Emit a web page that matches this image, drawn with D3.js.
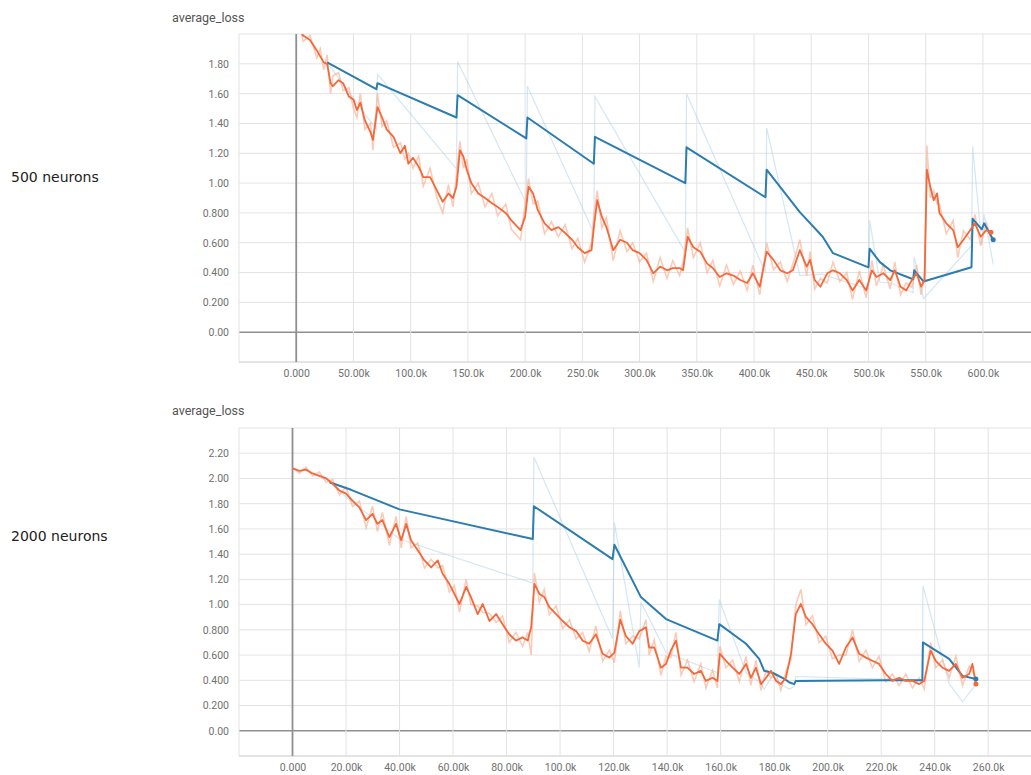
<!DOCTYPE html>
<html>
<head>
<meta charset="utf-8">
<script src="https://cdn.jsdelivr.net/npm/d3@7"></script>
<style>
  body { margin: 0; background: #fff; }
  svg { display: block; }
  .tick text { font-family: Roboto, "Liberation Sans", sans-serif; font-size: 10.5px; fill: #707070; }
</style>
</head>
<body>
<svg id="chart" width="1031" height="775"></svg>
<script>
// DATA (steps in thousands)

// top chart: 500 neurons, orange run  [step, smoothed, raw]
const orange500 = [
  [3,2.03,2.07],[6,1.99,1.95],[12,1.96,1.99],[18,1.89,1.84],[21,1.85,1.9],[24,1.81,1.76],[27,1.80,1.86],[30,1.67,1.6],[32,1.65,1.72],[37,1.69,1.74],
  [41,1.67,1.62],[46,1.58,1.64],[50,1.56,1.5],[53,1.49,1.44],[56,1.54,1.6],[60,1.42,1.36],[65,1.34,1.4],[67,1.29,1.22],[71,1.51,1.6],[75,1.44,1.38],
  [79,1.36,1.42],[85,1.31,1.24],[91,1.20,1.27],[95,1.25,1.16],[98,1.13,1.2],[102,1.17,1.1],[107,1.11,1.18],[111,1.04,0.98],[117,1.04,1.1],[123,0.95,0.9],
  [128,0.875,0.8],[133,0.93,0.99],[137,0.90,0.84],[140,0.975,1.05],[143,1.22,1.28],[146,1.18,1.1],[149,1.09,1.16],[153,1.00,0.93],[159,0.93,1.0],[165,0.90,0.84],
  [171,0.865,0.93],[176,0.84,0.78],[183,0.80,0.86],[188,0.75,0.69],[196,0.685,0.62],[200,0.775,0.86],[203,0.975,1.03],[207,0.93,0.86],[211,0.82,0.88],[217,0.73,0.66],
  [223,0.685,0.74],[229,0.705,0.64],[235,0.665,0.72],[241,0.62,0.56],[246,0.57,0.63],[252,0.53,0.47],[258,0.55,0.6],[260,0.70,0.78],[263,0.885,0.95],[267,0.775,0.7],
  [271,0.705,0.77],[277,0.55,0.48],[283,0.62,0.68],[289,0.60,0.54],[294,0.55,0.6],[300,0.53,0.47],[306,0.485,0.53],[312,0.395,0.34],[318,0.44,0.5],[324,0.415,0.36],
  [329,0.43,0.48],[335,0.43,0.38],[338,0.415,0.47],[342,0.64,0.7],[347,0.57,0.5],[353,0.54,0.6],[359,0.46,0.4],[364,0.43,0.48],[370,0.37,0.31],[376,0.395,0.45],
  [382,0.38,0.32],[388,0.35,0.41],[394,0.33,0.28],[399,0.395,0.45],[405,0.305,0.25],[411,0.54,0.6],[417,0.485,0.42],[423,0.415,0.47],[429,0.395,0.34],[434,0.415,0.46],
  [440,0.55,0.62],[446,0.44,0.38],[449,0.485,0.54],[453,0.35,0.29],[458,0.305,0.36],[464,0.395,0.33],[469,0.415,0.47],[475,0.395,0.34],[481,0.35,0.4],[486,0.28,0.22],
  [492,0.35,0.41],[498,0.28,0.23],[503,0.415,0.48],[507,0.37,0.31],[513,0.395,0.45],[519,0.35,0.29],[523,0.415,0.47],[528,0.305,0.25],[533,0.28,0.33],[538,0.35,0.3],
  [542,0.395,0.45],[546,0.305,0.25],[549,0.35,0.4],[551,1.09,1.25],[554,0.975,0.9],[557,0.885,0.95],[560,0.93,0.86],[562,0.80,0.86],[568,0.73,0.66],[574,0.685,0.75],
  [578,0.57,0.5],[583,0.62,0.68],[589,0.685,0.62],[593,0.73,0.79],[598,0.64,0.58],[603,0.685,0.74],[607,0.67,0.62]
];

// top chart: 500 neurons, blue run  [step, smoothed, raw]
const blue500 = [
  [27,1.81,1.81],[70,1.63,1.36],[71,1.67,1.73],[140,1.44,1.095],[141,1.59,1.815],
  [201,1.30,0.865],[202,1.44,1.65],[260,1.13,0.665],[261,1.31,1.58],[340,1.00,0.535],
  [341,1.24,1.6],[410,0.905,0.40],[411,1.09,1.37],[440,0.805,0.38],[460,0.64,0.39],
  [469,0.53,0.365],[500,0.435,0.29],[501,0.56,0.75],[510,0.47,0.335],[519,0.415,0.33],
  [539,0.355,0.265],[540,0.415,0.505],[548,0.34,0.225],[590,0.435,0.58],[591,0.76,1.245],
  [599,0.69,0.585],[601,0.73,0.79],[609,0.62,0.455]
];

// bottom chart: 2000 neurons, orange run  [step, smoothed, raw]
const orange2000 = [
  [0,2.08,2.09],[2.6,2.06,2.04],[5,2.07,2.09],[7.5,2.04,2.02],[10,2.02,2.05],[12.6,2.00,1.97],[15,1.96,1.99],[17.5,1.905,1.87],[20,1.88,1.93],[22.4,1.825,1.78],
  [25,1.77,1.82],[27.5,1.67,1.61],[29.9,1.72,1.78],[31.7,1.64,1.58],[33.6,1.67,1.73],[36.2,1.535,1.47],[38.7,1.64,1.7],[40.6,1.51,1.45],[42.5,1.64,1.7],[44.3,1.51,1.45],
  [46.8,1.43,1.49],[49.3,1.35,1.29],[51.8,1.295,1.36],[54.3,1.35,1.29],[56.1,1.245,1.31],[58.6,1.165,1.1],[60.5,1.085,1.15],[62.4,1.005,0.94],[64.9,1.14,1.2],[66.7,1.06,1.0],
  [69.2,0.925,0.99],[71.1,1.005,0.94],[73.6,0.87,0.93],[76.1,0.925,0.86],[78.5,0.845,0.91],[81,0.765,0.7],[83.5,0.715,0.78],[86,0.74,0.67],[87.9,0.715,0.78],[89.2,0.82,0.6],
  [90.4,1.165,1.25],[92.3,1.085,1.02],[94.1,1.06,1.12],[96,0.98,0.92],[98.5,0.925,0.99],[101,0.87,0.81],[103.5,0.82,0.88],[106,0.79,0.73],[108.4,0.715,0.78],[110.9,0.69,0.63],
  [113.4,0.765,0.83],[115.9,0.61,0.55],[118.4,0.58,0.64],[120.3,0.62,0.54],[122.5,0.88,0.95],[124.6,0.75,0.69],[127.1,0.69,0.75],[129.6,0.79,0.73],[132.1,0.82,0.88],[133.3,0.66,0.6],
  [135.2,0.66,0.72],[137.7,0.50,0.44],[139.6,0.53,0.59],[141.4,0.635,0.58],[143.3,0.715,0.78],[145.2,0.50,0.44],[147.6,0.50,0.56],[150.1,0.45,0.39],[152.6,0.475,0.53],[154.5,0.395,0.34],
  [157,0.42,0.48],[158.8,0.395,0.34],[159.7,0.61,0.67],[162,0.555,0.5],[164.5,0.50,0.56],[167,0.45,0.39],[169.5,0.53,0.59],[171.3,0.42,0.36],[173.2,0.50,0.56],[175.1,0.37,0.32],
  [177,0.42,0.48],[178.8,0.475,0.42],[180.7,0.395,0.45],[182.5,0.37,0.32],[184.4,0.42,0.47],[186.3,0.61,0.56],[188.1,0.925,1.0],[190,1.005,1.12],[191.9,0.90,0.84],[194.3,0.845,0.91],
  [196.8,0.765,0.7],[199.3,0.69,0.75],[201.8,0.635,0.57],[204.3,0.53,0.6],[206.8,0.66,0.6],[209.3,0.74,0.8],[211.8,0.61,0.55],[214.3,0.58,0.64],[216.7,0.555,0.5],[219.2,0.53,0.59],
  [221.7,0.45,0.39],[224.2,0.395,0.45],[226.7,0.42,0.36],[229.2,0.395,0.45],[231.7,0.395,0.34],[234.2,0.37,0.42],[236.1,0.395,0.33],[238.5,0.635,0.7],[240.4,0.555,0.5],[242.9,0.50,0.56],
  [245.4,0.475,0.42],[247.9,0.53,0.59],[250.4,0.42,0.36],[252.9,0.45,0.51],[254.1,0.53,0.47],[255.4,0.37,0.42]
];

// bottom chart: 2000 neurons, blue run  [step, smoothed, raw]
const blue2000 = [
  [13.8,1.97,1.97],[21.9,1.91,1.82],[40,1.755,1.52],[89.8,1.52,1.17],[90.2,1.78,2.17],
  [119.6,1.36,0.73],[120.3,1.475,1.65],[129.6,1.085,0.50],[130.2,1.06,1.02],[139.6,0.885,0.62],
  [158.8,0.715,0.46],[159.5,0.845,1.04],[169.5,0.69,0.46],[174.4,0.57,0.39],[176.3,0.475,0.33],
  [179.4,0.46,0.44],[183.1,0.42,0.36],[185.6,0.385,0.33],[187.5,0.37,0.35],[188.1,0.395,0.43],
  [221.7,0.40,0.41],[235.4,0.40,0.40],[235.6,0.70,1.15],[245.4,0.57,0.375],[250.4,0.435,0.23],
  [255.4,0.41,0.37]
];

// axis ticks
const xTicks500 = [0, 50, 100, 150, 200, 250, 300, 350, 400, 450, 500, 550, 600];
const yTicks500 = [0, 0.2, 0.4, 0.6, 0.8, 1.0, 1.2, 1.4, 1.6, 1.8];
const xTicks2000 = [0, 20, 40, 60, 80, 100, 120, 140, 160, 180, 200, 220, 240, 260];
const yTicks2000 = [0, 0.2, 0.4, 0.6, 0.8, 1.0, 1.2, 1.4, 1.6, 1.8, 2.0, 2.2];

const charts = [
  {
    label: "500 neurons", labelY: 182, titleY: 22,
    top: 34, bottom: 362,
    xDomain: [-50, 642], yDomain: [-0.2, 2.0],
    xTicks: xTicks500, yTicks: yTicks500,
    xGrid: [-50].concat(xTicks500), yGrid: [-0.2].concat(yTicks500, [2.0]),
    orange: orange500, blue: blue500
  },
  {
    label: "2000 neurons", labelY: 541, titleY: 415,
    top: 428, bottom: 756,
    xDomain: [-20, 276], yDomain: [-0.2, 2.4],
    xTicks: xTicks2000, yTicks: yTicks2000,
    xGrid: [-20].concat(xTicks2000), yGrid: [-0.2].concat(yTicks2000, [2.4]),
    orange: orange2000, blue: blue2000
  }
];

const svg = d3.select("#chart");
const left = 239, right = 1031;
const fmtX = d3.format(".4s");
const fmtY = d3.format(".3r");

charts.forEach((c, i) => {

  const x = d3.scaleLinear().domain(c.xDomain).range([left, right]);
  const y = d3.scaleLinear().domain(c.yDomain).range([c.bottom, c.top]);

  const g = svg.append("g");

  // side label
  g.append("text")
    .attr("x", 11)
    .attr("y", c.labelY)
    .attr("font-family", "'DejaVu Sans', sans-serif")
    .attr("font-size", 14)
    .attr("fill", "#222")
    .text(c.label);

  // title
  g.append("text")
    .attr("x", 172)
    .attr("y", c.titleY)
    .attr("font-family", "Roboto, sans-serif")
    .attr("font-size", 12.5)
    .attr("fill", "#555")
    .text("average_loss");

  // GRID

  g.append("g")
    .selectAll("line")
    .data(c.yGrid)
    .join("line")
    .attr("x1", left)
    .attr("x2", right)
    .attr("y1", d => y(d))
    .attr("y2", d => y(d))
    .attr("stroke", d => d === 0 ? "#8f8f8f" : (d === c.yDomain[0] ? "#c8c8c8" : "#e3e3e3"))
    .attr("stroke-width", d => d === 0 ? 1.6 : 1);

  g.append("g")
    .selectAll("line")
    .data(c.xGrid)
    .join("line")
    .attr("x1", d => x(d))
    .attr("x2", d => x(d))
    .attr("y1", c.top)
    .attr("y2", c.bottom)
    .attr("stroke", d => d === 0 ? "#8f8f8f" : "#e3e3e3")
    .attr("stroke-width", d => d === 0 ? 1.8 : 1);

  // AXES

  const yAxis = d3.axisLeft(y)
    .tickValues(c.yTicks)
    .tickFormat(fmtY)
    .tickSize(0)
    .tickPadding(0);

  g.append("g")
    .attr("transform", `translate(${left - 10},0)`)
    .call(yAxis)
    .call(a => a.select(".domain").remove());

  const xAxis = d3.axisBottom(x)
    .tickValues(c.xTicks)
    .tickFormat(d => fmtX(d * 1000))
    .tickSize(0)
    .tickPadding(8);

  g.append("g")
    .attr("transform", `translate(0,${c.bottom})`)
    .call(xAxis)
    .call(a => a.select(".domain").remove());

  // LINES

  const clipId = "clip" + i;
  svg.append("clipPath")
    .attr("id", clipId)
    .append("rect")
    .attr("x", left)
    .attr("y", c.top)
    .attr("width", right - left)
    .attr("height", c.bottom - c.top);

  const plot = g.append("g").attr("clip-path", `url(#${clipId})`);

  const raw = d3.line().x(d => x(d[0])).y(d => y(d[2]));
  const smooth = d3.line().x(d => x(d[0])).y(d => y(d[1]));

  plot.append("path")
    .datum(c.blue)
    .attr("d", raw)
    .attr("fill", "none")
    .attr("stroke", "#a9cfe8")
    .attr("stroke-opacity", 0.5)
    .attr("stroke-width", 1.2);

  plot.append("path")
    .datum(c.orange)
    .attr("d", raw)
    .attr("fill", "none")
    .attr("stroke", "#f9a88a")
    .attr("stroke-opacity", 0.6)
    .attr("stroke-width", 1.6);

  plot.append("path")
    .datum(c.blue)
    .attr("d", smooth)
    .attr("fill", "none")
    .attr("stroke", "#2b7db0")
    .attr("stroke-width", 2)
    .attr("stroke-linejoin", "round");

  plot.append("path")
    .datum(c.orange)
    .attr("d", smooth)
    .attr("fill", "none")
    .attr("stroke", "#f4683a")
    .attr("stroke-width", 1.8)
    .attr("stroke-linejoin", "round");

  // end markers
  [[c.blue, "#2b7db0"], [c.orange, "#f4683a"]].forEach(([s, col]) => {
    const last = s[s.length - 1];
    plot.append("circle")
      .attr("cx", x(last[0]))
      .attr("cy", y(last[1]))
      .attr("r", 2.5)
      .attr("fill", col);
  });

});
</script>
</body>
</html>
